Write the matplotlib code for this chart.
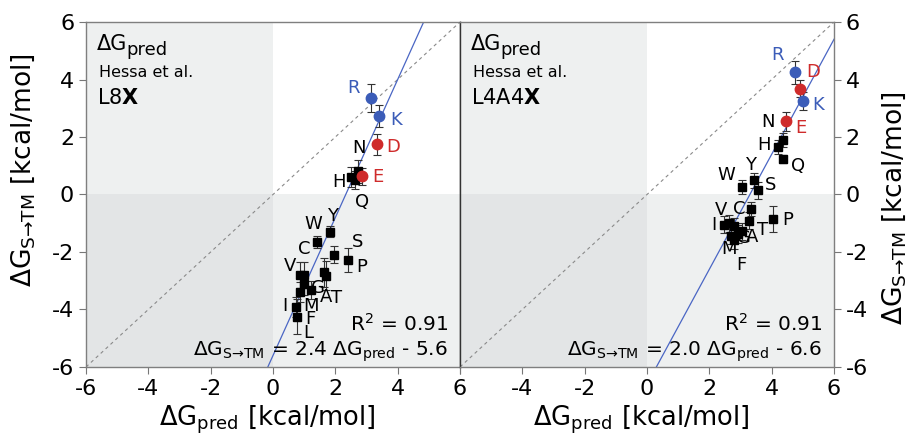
import matplotlib
matplotlib.use("Agg")
import matplotlib.pyplot as plt

plt.rcParams['font.family'] = ['DejaVu Sans']
plt.rcParams['mathtext.fontset'] = 'dejavusans'
plt.rcParams['axes.unicode_minus'] = False

aa = ['R', 'K', 'D', 'E', 'N', 'H', 'Q', 'Y', 'W', 'S', 'P',
      'C', 'V', 'G', 'A', 'T', 'I', 'M', 'F', 'L']

# Panel 1: L8X
l8_x = [3.15, 3.40, 3.33, 2.87, 2.72, 2.50, 2.62, 1.84, 1.41, 1.97, 2.41,
        1.00, 0.88, 1.22, 1.64, 1.71, 0.73, 0.88, 0.77, 1.00]
l8_y = [3.36, 2.73, 1.74, 0.63, 0.80, 0.60, 0.50, -1.29, -1.66, -2.10, -2.28,
        -2.79, -2.79, -3.32, -2.71, -2.82, -3.90, -3.38, -4.25, -3.11]
l8_err = [0.48, 0.37, 0.35, 0.30, 0.40, 0.35, 0.30, 0.20, 0.20, 0.30, 0.42,
          0.45, 0.45, 0.30, 0.50, 0.50, 0.35, 0.35, 0.60, 0.40]
l8_fit = (2.4, -5.6)
l8_r2 = 0.91

# Panel 2: L4A4X
l4_x = [4.74, 5.00, 4.91, 4.46, 4.35, 4.19, 4.35, 3.42, 3.05, 3.55, 4.04,
        3.33, 2.64, 2.93, 3.05, 3.28, 2.48, 2.69, 2.80, 2.80]
l4_y = [4.26, 3.25, 3.68, 2.54, 1.90, 1.65, 1.24, 0.49, 0.25, 0.14, -0.86,
        -0.50, -1.00, -1.37, -1.28, -0.91, -1.05, -1.43, -1.60, -1.11]
l4_err = [0.40, 0.30, 0.30, 0.33, 0.25, 0.25, 0.15, 0.25, 0.25, 0.30, 0.45,
          0.25, 0.30, 0.30, 0.30, 0.30, 0.30, 0.30, 0.30, 0.30]
l4_fit = (2.0, -6.6)
l4_r2 = 0.91

ticks = [-6, -4, -2, 0, 2, 4, 6]
tick_labels = ['-6', '-4', '-2', '0', '2', '4', '6']

# label offsets in pixels (style)
l8_off = [(-18, 10), (17, -4), (16, -3), (15, -1), (1, 23), (-12, -5), (7, -22),
          (2, 16), (-4, 18), (23, 13), (14, -7), (0, 26), (-10, 9), (7, 2),
          (2, -25), (10, -22), (-11, 1), (11, -14), (13, -2), (4, -49)]
l4_off = [(-17, 17), (15, -4), (13, 17), (15, -7), (-15, 18), (-14, 2), (15, -7),
          (-3, 15), (-16, 12), (13, 5), (15, -1), (-12, 0), (-8, 13), (6, -4),
          (10, -6), (13, -9), (-10, 0), (-2, -13), (7, -25), None]

BLUE = '#3b5cb8'
RED = '#cf2b2b'
colors = {'R': BLUE, 'K': BLUE, 'D': RED, 'E': RED}

LIGHT = '#eef0f0'
DARK = '#e3e5e6'

fig = plt.figure(figsize=(9.12, 4.34), dpi=100)
ax1 = fig.add_axes([0.0943, 0.1544, 0.4101, 0.7949])
ax2 = fig.add_axes([0.5044, 0.1544, 0.4101, 0.7949])


def panel(ax, xs, ys, errs, offs, fit, r2, name, xlabels):
    ax.set_xlim(-6, 6)
    ax.set_ylim(-6, 6)
    ax.fill_between([-6, 0], 0, 6, color=LIGHT, lw=0, zorder=0)
    ax.fill_between([-6, 0], -6, 0, color=DARK, lw=0, zorder=0)
    ax.fill_between([0, 6], -6, 0, color=LIGHT, lw=0, zorder=0)
    ax.plot([-6, 6], [-6, 6], ls=(0, (3, 3)), color='#8a8a8a', lw=0.8, zorder=1)
    m, b = fit
    ax.plot([-6, 6], [m * -6 + b, m * 6 + b], color='#4a66c4', lw=0.9, zorder=2)
    for a, x, y, e, off in zip(aa, xs, ys, errs, offs):
        c = colors.get(a, 'black')
        circ = a in colors
        mk = 'o' if circ else 's'
        ms = 7.5 if circ else 6
        ax.errorbar([x], [y], yerr=[e], fmt='none', ecolor='#333333', elinewidth=0.8,
                    capsize=3, capthick=0.8, zorder=3)
        ax.plot([x], [y], marker=mk, ms=ms, color=c, ls='none', zorder=5 if circ else 4)
        if off is not None:
            ax.annotate(a, (x, y), xytext=off, textcoords='offset pixels',
                        ha='center', va='center', fontsize=13, color=c, zorder=6)
    t = ax.text(0.03, 0.935, 'ΔG', transform=ax.transAxes,
                fontsize=15, ha='left', va='center')
    ax.annotate('pred', xy=(1.0, 0.0), xycoords=t, xytext=(-0.8, -3.5),
                textcoords='offset points', fontsize=13, ha='left', va='bottom')
    ax.text(0.035, 0.855, 'Hessa et al.', transform=ax.transAxes,
            fontsize=11.5, ha='left', va='center')
    ax.text(0.03, 0.78, name, transform=ax.transAxes,
            fontsize=15, ha='left', va='center')
    ax.text(0.968, 0.125, 'R$^{\\mathregular{2}}$ = %.2f' % r2, transform=ax.transAxes,
            fontsize=14.5, ha='right', va='center')
    sign = '-' if b < 0 else '+'
    ax.text(0.968, 0.043,
            r'ΔG$_{\mathregular{S→TM}}$ = %.1f ΔG$_{\mathregular{pred}}$ %s %.1f' % (m, sign, abs(b)),
            transform=ax.transAxes, fontsize=14.5, ha='right', va='center')
    ax.set_xticks(ticks)
    ax.set_xticklabels(xlabels)
    ax.set_yticks(ticks)
    ax.set_yticklabels(tick_labels)
    ax.tick_params(labelsize=16, length=5, width=0.8, color='#777777', direction='out')
    ax.set_xlabel(r'ΔG$_{\mathregular{pred}}$ [kcal/mol]', fontsize=18.5)
    ax.xaxis.set_label_coords(0.486, -0.105)
    for s in ax.spines.values():
        s.set_color('#7f7f7f')
        s.set_linewidth(1.0)


panel(ax1, l8_x, l8_y, l8_err, l8_off, l8_fit, l8_r2, r'L8$\mathbf{X}$', tick_labels)
panel(ax2, l4_x, l4_y, l4_err, l4_off, l4_fit, l4_r2, r'L4A4$\mathbf{X}$',
      [''] + tick_labels[1:])

ax1.set_ylabel(r'ΔG$_{\mathregular{S→TM}}$ [kcal/mol]', fontsize=19)
ax1.yaxis.set_label_coords(-0.13, 0.57)
ax2.yaxis.tick_right()
ax2.yaxis.set_label_position('right')
ax2.set_ylabel(r'ΔG$_{\mathregular{S→TM}}$ [kcal/mol]', fontsize=19)
ax2.yaxis.set_label_coords(1.122, 0.46)
ax1.spines['right'].set_color('#333333')
ax2.spines['left'].set_color('#333333')

fig.savefig('out.png', dpi=100)
